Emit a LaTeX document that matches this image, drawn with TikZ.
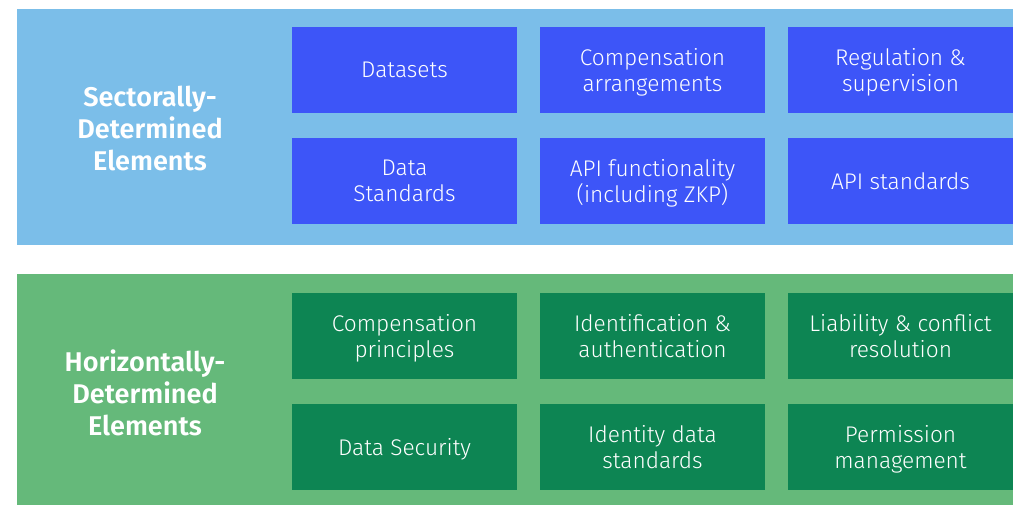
\documentclass[tikz,border=0pt]{standalone}
\usepackage{fontspec}
\setmainfont{Fira Sans}[UprightFont=* Light, BoldFont=* SemiBold]
\definecolor{bandblue}{HTML}{7BBEE9}
\definecolor{boxblue}{HTML}{3D55F8}
\definecolor{bandgreen}{HTML}{65B97A}
\definecolor{boxgreen}{HTML}{0D8553}
\begin{document}
\begin{tikzpicture}[x=0.75pt,y=-0.75pt,
  cell/.style={minimum width=168.75pt, minimum height=64.5pt, inner sep=0pt, outer sep=0pt, anchor=north west},
  celltext/.style={text=white, align=center, inner sep=0pt, yshift=-1.9pt,
    font=\fontsize{17}{19.5}\selectfont,
    execute at begin node={\vphantom{Ay}}, execute at end node={\vphantom{gy}}},
  bluecell/.style={cell, fill=boxblue},
  greencell/.style={cell, fill=boxgreen},
  grouplabel/.style={text=white, align=center, font=\fontsize{20.3}{24}\selectfont\bfseries}]
\useasboundingbox (0,0) rectangle (1013,505);
\fill[white] (0,0) rectangle (1013,505);
\fill[bandblue] (17,9) rectangle (1013,245);
\fill[bandgreen] (17,274) rectangle (1013,505);
\node[grouplabel] (sect) at (150,128) {Sectorally-\\Determined\\Elements};
\node[grouplabel] (horiz) at (145,393) {Horizontally-\\Determined\\Elements};
\node[bluecell, label={[celltext]center:Datasets}] (b11) at (292,27) {};
\node[bluecell, label={[celltext]center:{Compensation\\arrangements}}] (b12) at (540,27) {};
\node[bluecell, label={[celltext]center:{Regulation \&\\supervision}}] (b13) at (788,27) {};
\node[bluecell, label={[celltext]center:{Data\\Standards}}] (b21) at (292,138) {};
\node[bluecell, label={[celltext]center:{API functionality\\(including ZKP)}}] (b22) at (540,138) {};
\node[bluecell, label={[celltext]center:API standards}] (b23) at (788,138) {};
\node[greencell, label={[celltext]center:{Compensation\\principles}}] (g11) at (292,293) {};
\node[greencell, label={[celltext]center:{Identification \&\\authentication}}] (g12) at (540,293) {};
\node[greencell, label={[celltext]center:{Liability \& conflict\\resolution}}] (g13) at (788,293) {};
\node[greencell, label={[celltext]center:Data Security}] (g21) at (292,404) {};
\node[greencell, label={[celltext]center:{Identity data\\standards}}] (g22) at (540,404) {};
\node[greencell, label={[celltext]center:{Permission\\management}}] (g23) at (788,404) {};
\end{tikzpicture}
\end{document}
